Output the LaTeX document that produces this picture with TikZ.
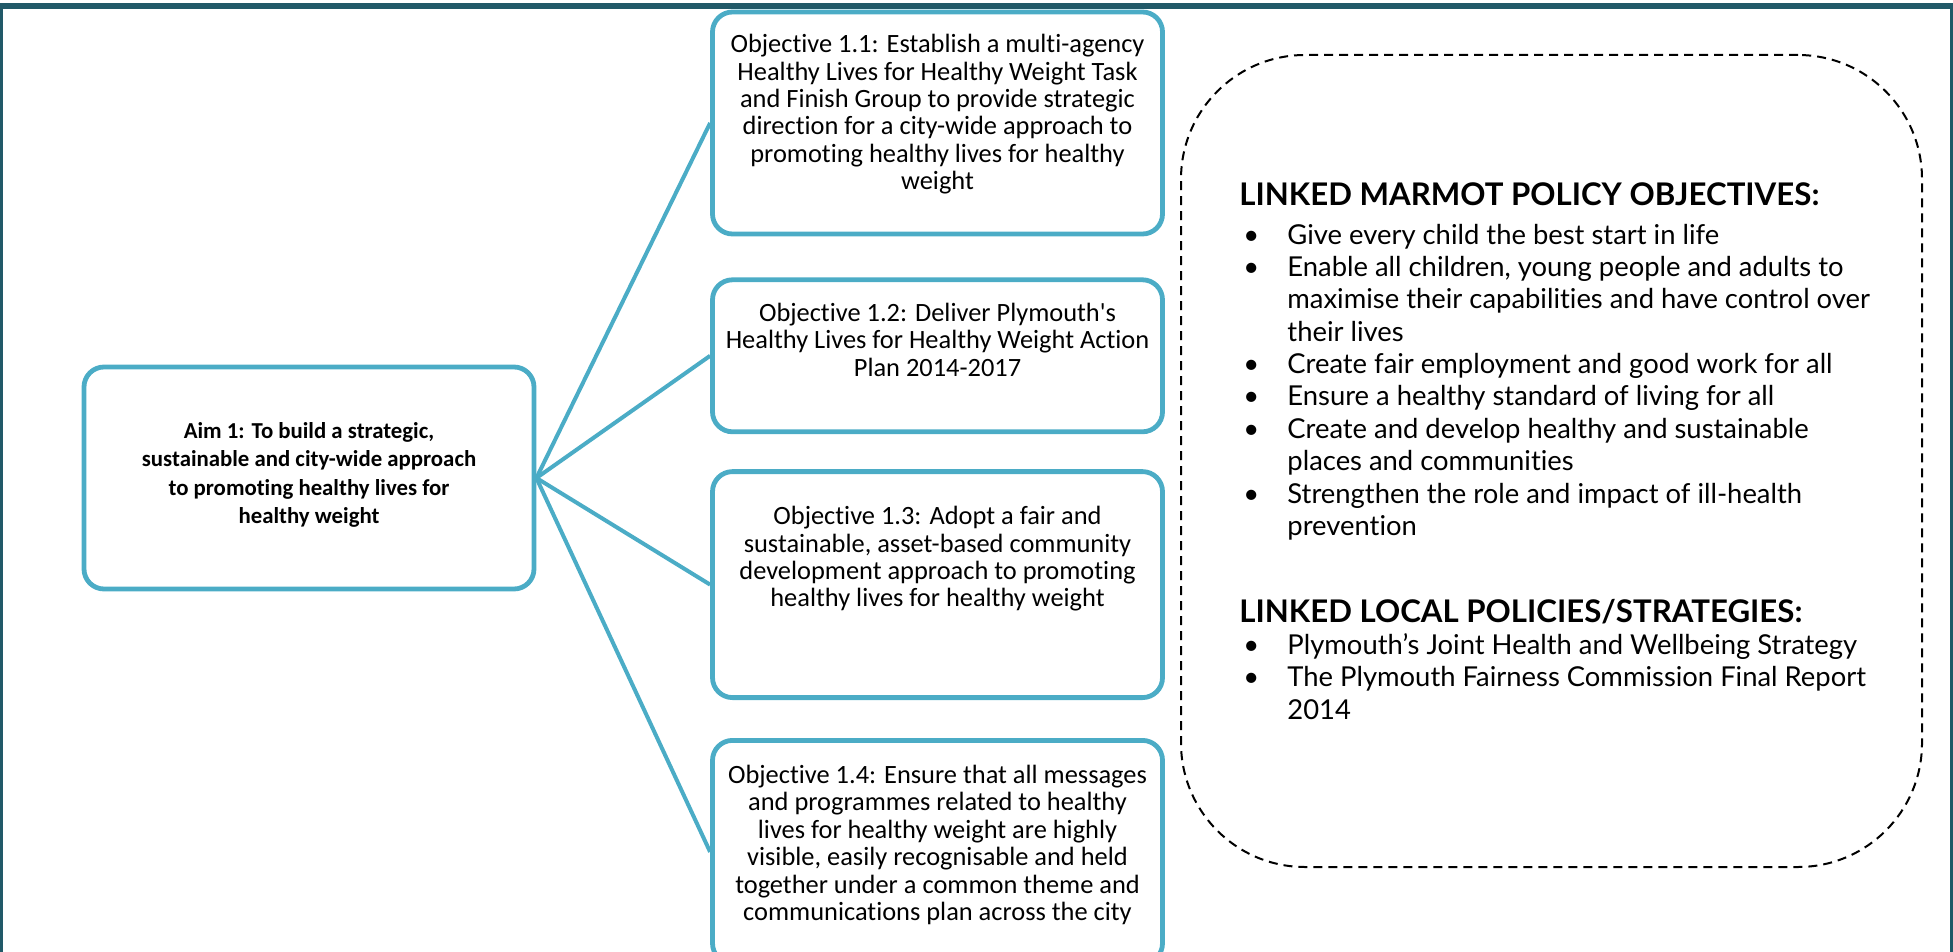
\documentclass[tikz,border=0pt]{standalone}
\usepackage{fontspec}
\setmainfont[Ligatures=NoCommon]{Carlito}
\newfontfamily\gill[Ligatures=NoCommon]{Lato}
\usetikzlibrary{positioning}

\definecolor{aimblue}{HTML}{4BACC6}
\definecolor{framecol}{HTML}{215968}
% extra depth under the last line lifts the text inside its box
\newcommand{\padb}[1]{\rule[-#1]{0pt}{#1}}
\newcommand{\bul}{\hspace{2pt}\textbullet}

\begin{document}
\begin{tikzpicture}[x=0.5pt, y=-0.5pt,
	box/.style={draw=aimblue, line width=2.4pt, rounded corners=10pt, align=center, inner sep=2pt, minimum width=225pt, font=\fontsize{13.2}{13.7}\selectfont},
	link/.style={draw=aimblue, line width=2pt},
	linkbox/.style={draw, dashed, dash pattern=on 4.5pt off 3pt, line width=1pt, rounded corners=62pt, minimum width=370.5pt, minimum height=406pt}]

	\useasboundingbox (0,0) rectangle (1953,952);

	% page border
	\draw [framecol, line width=3pt] (0,6) -- (1953,6);
	\draw [framecol, line width=1.5pt] (1.5,6) -- (1.5,952);
	\draw [framecol, line width=1.5pt] (1951.5,6) -- (1951.5,952);

	\node [box, minimum height=111pt, font=\bfseries\fontsize{11.4}{14.2}\selectfont] (aim) at (309,478)
	{Aim 1: To build a strategic,\\sustainable and city-wide approach\\to promoting healthy lives for\\healthy weight\padb{5pt}};

	\node [box, minimum height=111pt] (obj11) at (937.5,123)
	{Objective 1.1: Establish a multi-agency\\Healthy Lives for Healthy Weight Task\\and Finish Group to provide strategic\\direction for a city-wide approach to\\promoting healthy lives for healthy\\weight\padb{11pt}};
	\node [box, minimum height=76pt, below=20.5pt of obj11] (obj12)
	{Objective 1.2: Deliver Plymouth\textquotesingle s\\Healthy Lives for Healthy Weight Action\\Plan 2014-2017\padb{16pt}};
	\node [box, minimum height=113pt, below=17.5pt of obj12] (obj13)
	{Objective 1.3: Adopt a fair and\\sustainable, asset-based community\\development approach to promoting\\healthy lives for healthy weight\padb{28pt}};
	\node [box, minimum height=111.5pt, below=19pt of obj13] (obj14)
	{Objective 1.4: Ensure that all messages\\and programmes related to healthy\\lives for healthy weight are highly\\visible, easily recognisable and held\\together under a common theme and\\communications plan across the city\padb{9pt}};

	\foreach \obj in {obj11, obj12, obj13, obj14}
		\draw [link] (aim.east) -- (\obj.west);

	\node [linkbox] (links) at (1551.5,461) {};
	\node [anchor=base west, inner sep=0pt, font=\gill\fontsize{13.7}{16.2}\selectfont] (policies) at (1239,206)
	{\begin{tabular}[t]{@{}p{24pt}@{}l@{}}
		\multicolumn{2}{@{}l}{\bfseries\fontsize{15.6}{16.2}\selectfont LINKED MARMOT POLICY OBJECTIVES:}\\[2.8pt]
		\bul & Give every child the best start in life\\
		\bul & Enable all children, young people and adults to\\
		& maximise their capabilities and have control over\\
		& their lives\\
		\bul & Create fair employment and good work for all\\
		\bul & Ensure a healthy standard of living for all\\
		\bul & Create and develop healthy and sustainable\\
		& places and communities\\
		\bul & Strengthen the role and impact of ill-health\\
		& prevention\\[26.8pt]
		\multicolumn{2}{@{}l}{\bfseries\fontsize{15.6}{16.2}\selectfont LINKED LOCAL POLICIES/STRATEGIES:}\\
		\bul & Plymouth’s Joint Health and Wellbeing Strategy\\
		\bul & The Plymouth Fairness Commission Final Report\\
		& 2014
	\end{tabular}};

\end{tikzpicture}
\end{document}
